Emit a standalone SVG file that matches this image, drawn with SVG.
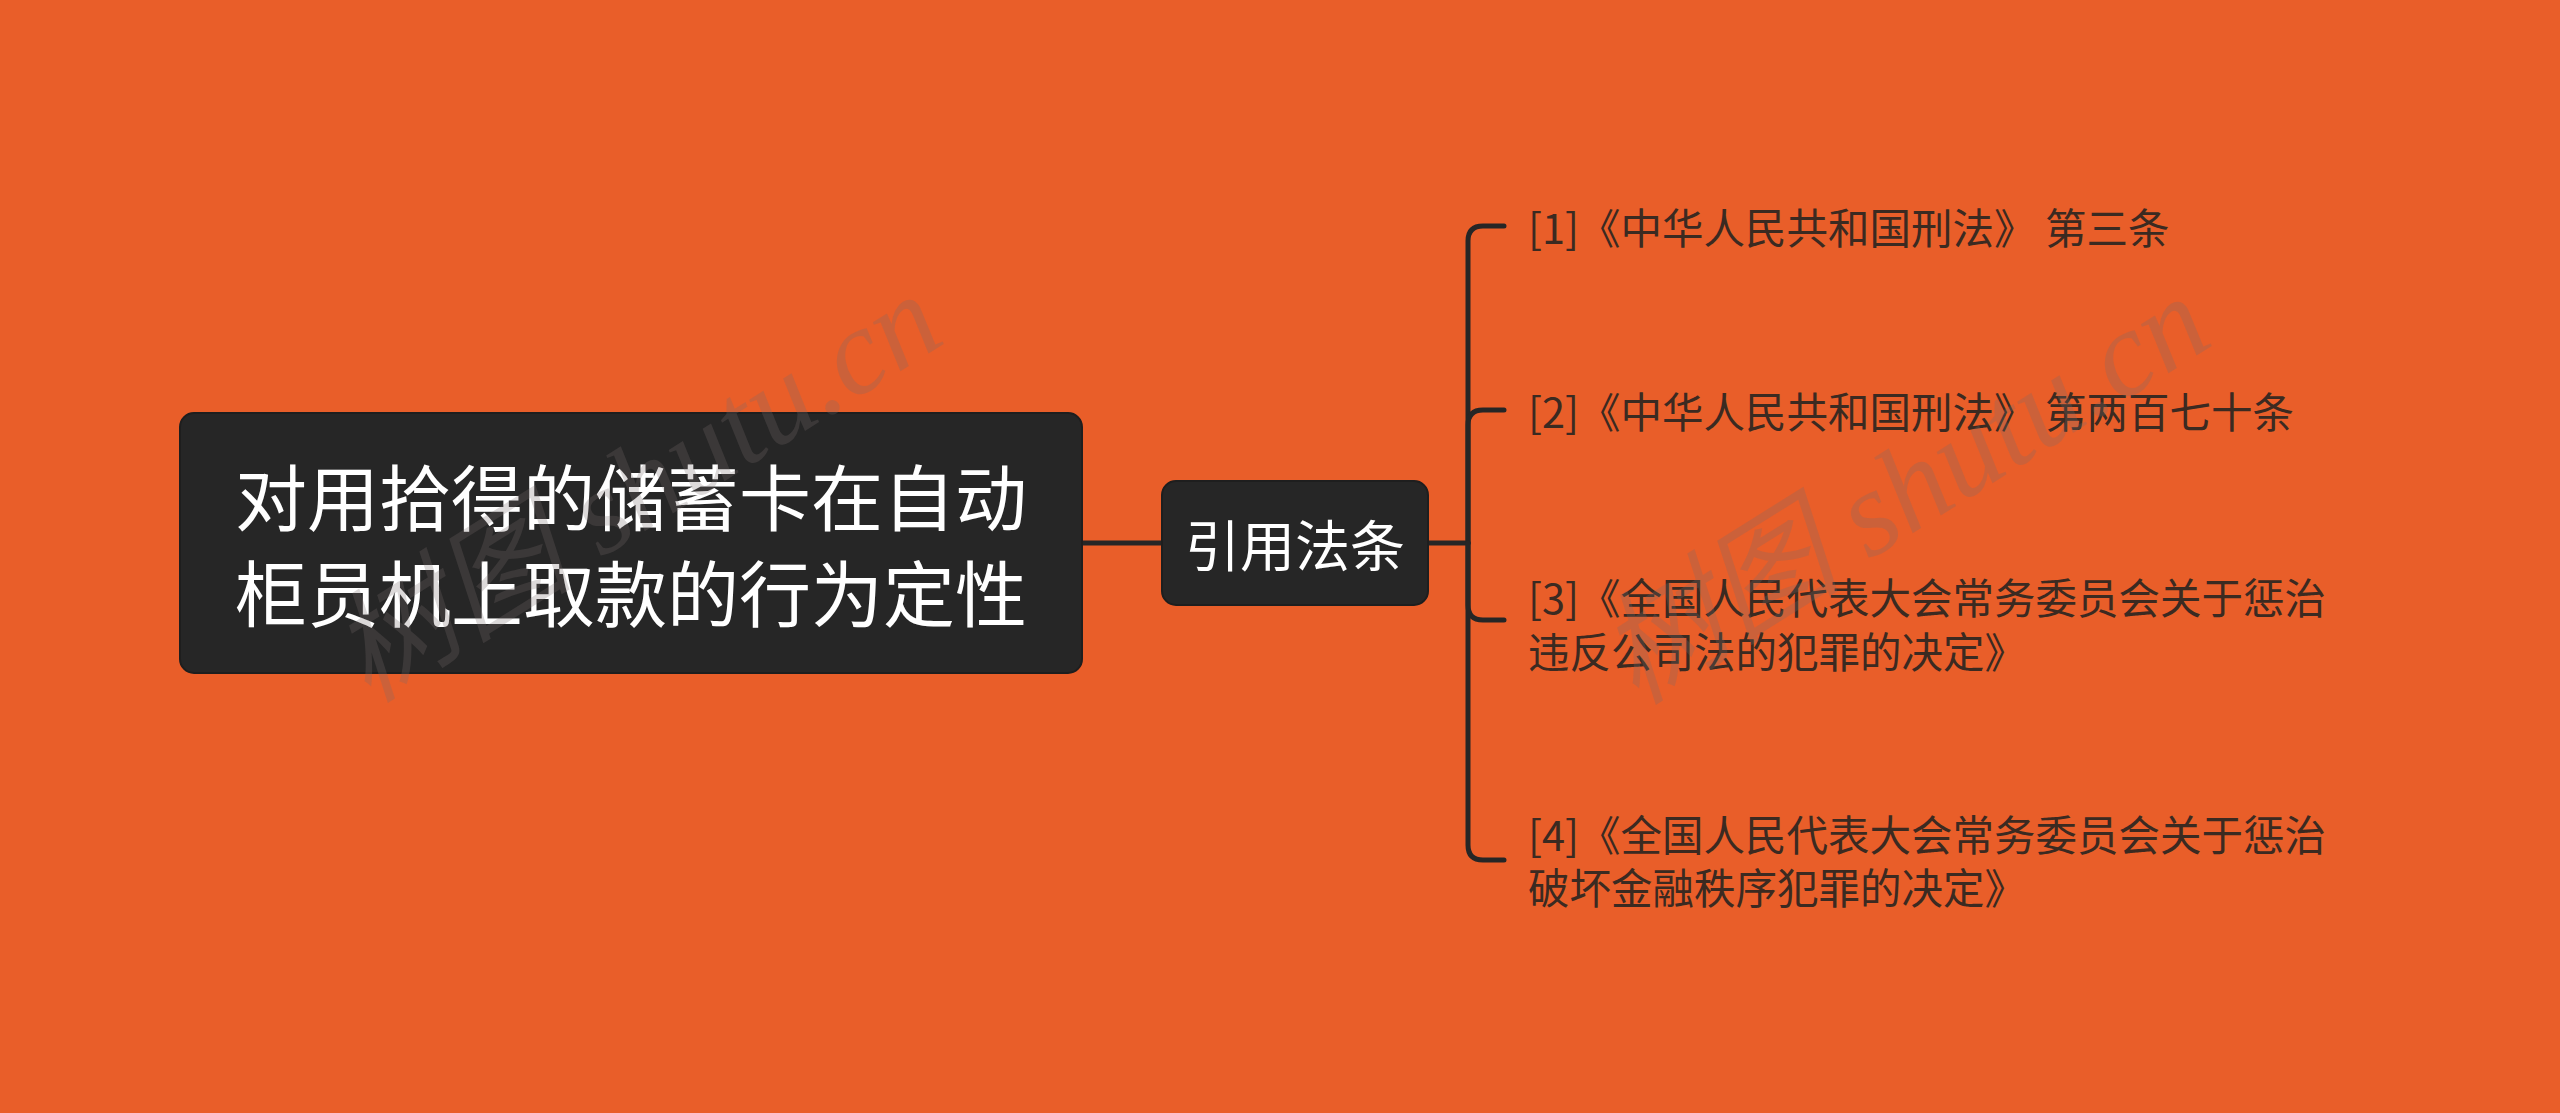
<svg xmlns="http://www.w3.org/2000/svg" width="2560" height="1113" viewBox="0 0 2560 1113">
<defs>
<style>
.bg{fill:#E95E29}
.node{fill:#262626;stroke:#1e1e1e;stroke-width:2}
.t{font-family:"Noto Sans CJK SC","Noto Sans",sans-serif;dominant-baseline:central}
.root{fill:#ffffff;font-size:72px}
.mid{fill:#ffffff;font-size:55px}
.leaf{fill:#3b2a21;font-size:41.5px}
.edge{fill:none;stroke:#262626;stroke-width:5;stroke-linecap:round}
.wm{font-family:"Liberation Serif","Noto Sans CJK SC",serif;font-style:italic;font-size:122px;fill:rgba(120,110,110,0.26)}
</style>
</defs>
<rect class="bg" x="0" y="0" width="2560" height="1113"/>
<g id="connectors">
<path class="edge" d="M1082 543 L1162 543"/>
<path class="edge" d="M1428 543 L1468 543"/>
<path class="edge" d="M1468 543 L1468 241 Q1468 226 1483 226 L1504 226"/>
<path class="edge" d="M1468 543 L1468 425 Q1468 410 1483 410 L1504 410"/>
<path class="edge" d="M1468 543 L1468 605 Q1468 620 1483 620 L1504 620"/>
<path class="edge" d="M1468 543 L1468 845 Q1468 860 1483 860 L1504 860"/>
</g>
<g id="root">
<rect class="node" x="180" y="413" width="902" height="260" rx="14"/>
<text class="t root" x="631" y="493" text-anchor="middle">对用拾得的储蓄卡在自动</text>
<text class="t root" x="631" y="589" text-anchor="middle">柜员机上取款的行为定性</text>
</g>
<g id="mid">
<rect class="node" x="1162" y="481" width="266" height="124" rx="14"/>
<text class="t mid" x="1295" y="542" text-anchor="middle">引用法条</text>
</g>
<g id="leaf1">
<text class="t leaf" x="1528" y="226">[1]《中华人民共和国刑法》 第三条</text>
</g>
<g id="leaf2">
<text class="t leaf" x="1528" y="410">[2]《中华人民共和国刑法》 第两百七十条</text>
</g>
<g id="leaf3">
<text class="t leaf" x="1528" y="596">[3]《全国人民代表大会常务委员会关于惩治</text>
<text class="t leaf" x="1528" y="650">违反公司法的犯罪的决定》</text>
</g>
<g id="leaf4">
<text class="t leaf" x="1528" y="833">[4]《全国人民代表大会常务委员会关于惩治</text>
<text class="t leaf" x="1528" y="886">破坏金融秩序犯罪的决定》</text>
</g>
<g id="watermarks">
<text class="wm" x="368" y="704" transform="rotate(-32 368 704)">树图 shutu.cn</text>
<text class="wm" x="1636" y="706" transform="rotate(-32 1636 706)">树图 shutu.cn</text>
</g>
</svg>
